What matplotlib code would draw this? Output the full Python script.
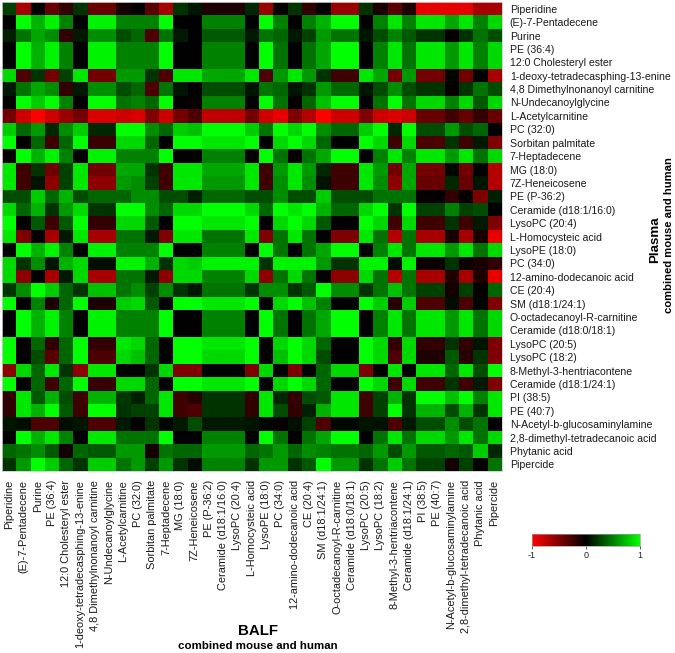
import numpy as np
import matplotlib
matplotlib.use("Agg")
import matplotlib.pyplot as plt
from matplotlib.colors import LinearSegmentedColormap, Normalize
from matplotlib.cm import ScalarMappable

plt.rcParams['font.family'] = ['Liberation Sans', 'DejaVu Sans']
plt.rcParams['axes.unicode_minus'] = False

metabolites = ["Piperidine", "(E)-7-Pentadecene", "Purine", "PE (36:4)", "12:0 Cholesteryl ester",
    "1-deoxy-tetradecasphing-13-enine", "4,8 Dimethylnonanoyl carnitine", "N-Undecanoylglycine",
    "L-Acetylcarnitine", "PC (32:0)", "Sorbitan palmitate", "7-Heptadecene", "MG (18:0)",
    "7Z-Heneicosene", "PE (P-36:2)", "Ceramide (d18:1/16:0)", "LysoPC (20:4)", "L-Homocysteic acid",
    "LysoPE (18:0)", "PC (34:0)", "12-amino-dodecanoic acid", "CE (20:4)", "SM (d18:1/24:1)",
    "O-octadecanoyl-R-carnitine", "Ceramide (d18:0/18:1)", "LysoPC (20:5)", "LysoPC (18:2)",
    "8-Methyl-3-hentriacontene", "Ceramide (d18:1/24:1)", "PI (38:5)", "PE (40:7)",
    "N-Acetyl-b-glucosaminylamine", "2,8-dimethyl-tetradecanoic acid", "Phytanic acid", "Pipercide"]

r00 = [.25,-.65,0,-.4,-.2,.2,-.4,-.4,-.1,0,-.35,-.65,.2,.08,-.12,-.12,-.12,.15, -.6,-.02,.2,-.2,0,-.6,-.6,.2,-.1,-.35,-.12,-.9,-.9,-.9,-.9,-.65,-.65]
r01 = [0,1,.7,.95,.5,0,.95,.95,.5,.5,.5,1,0,0,.5,.5,.5,0, 1,.5,0,.5,.7,1,1,0,.5,.9,.5,.9,.9,.65,.9,.5,.85]
r02 = [.12,.45,.65,.55,-.2,.1,.55,.55,.3,.4,-.3,.45,.1,0,.35,.35,.35,.1, .45,.4,.1,.25,.6,.45,.45,.08,.3,.5,.35,.2,.2,-.02,.2,.45,.3]
r03 = [0,1,.7,.95,.5,0,.95,.95,.5,.5,.5,1,0,0,.5,.5,.5,0, 1,.45,0,.45,.65,1,1,0,.5,.9,.45,.9,.9,.6,.9,.5,.85]
r04 = [0,1,.7,.95,.5,0,.95,.95,.5,.5,.5,1,0,0,.5,.5,.5,0, 1,.45,0,.45,.65,1,1,0,.5,.9,.45,.9,.9,.6,.9,.5,.85]
r05 = [.85,-.3,.2,-.45,.25,.9,-.45,-.45,.6,.6,.2,-.3,.9,.9,.65,.65,.65,.9, -.3,.6,.9,.6,.2,-.25,-.25,.9,.65,-.45,.6,-.45,-.45,.02,-.45,0,-.65]
r06 = [.1,.45,.65,.55,-.2,.1,.55,.55,.3,.4,-.3,.45,.08,0,.3,.3,.3,.08, .45,.4,.08,.2,.6,.4,.4,.08,.3,.55,.3,.2,.2,-.02,.2,.45,.3]
r07 = [0,1,.8,1,.5,0,1,1,.45,.5,.4,1,0,-.03,.5,.5,.5,0, 1,.45,0,.4,.75,1,1,0,.45,1,.45,.85,.85,.5,.85,.35,.85]
r08 = [-.45,-.8,-1,-.8,-.6,-.45,-.85,-.85,-.8,-.85,-.5,-.8,-.45,-.3,-.75,-.75,-.75,-.45, -.8,-.9,-.5,-.7,-1,-.8,-.8,-.5,-.8,-.85,-.8,-.4,-.4,-.25,-.4,-.2,-.4]
r09 = [.8,.4,.6,.15,.55,.8,.15,.15,1,1,.55,.4,.8,.75,1,1,1,.8, .45,1,.85,1,.55,.4,.4,.8,1,.15,1,.3,.3,.6,.3,.4,0]
r10 = [1,0,.4,-.25,.4,1,-.22,-.22,.85,.85,.4,0,1,1,.9,.9,.9,1, 0,.85,1,.85,.4,0,0,1,.85,-.25,.85,-.3,-.3,.2,-.25,.1,-.5]
r11 = [0,1,.7,.95,.5,0,.95,.95,.5,.5,.5,1,0,0,.5,.5,.5,0, 1,.45,0,.45,.65,1,1,0,.5,.9,.5,.9,.9,.6,.9,.45,.85]
r12 = [.9,-.25,.2,-.45,.25,.9,-.45,-.45,.65,.65,.2,-.25,.9,.9,.65,.65,.65,.9, -.25,.6,.9,.6,.15,-.25,-.25,.9,.6,-.45,.65,-.45,-.45,.03,-.45,0,-.7]
r13 = [.9,-.25,.08,-.55,.25,.9,-.55,-.55,.6,.55,.25,-.25,.9,.9,.6,.6,.6,.9, -.25,.55,.9,.55,.08,-.25,-.25,.9,.55,-.55,.65,-.4,-.4,.15,-.4,.08,-.7]
r14 = [.3,.3,.8,.4,.7,.3,.4,.4,.4,.55,.55,.3,.3,.12,.4,.4,.4,.3, .3,.55,.3,.3,.8,.3,.3,.3,.45,.45,.45,-.02,-.02,-.2,-.02,-.5,.12]
r15 = [.85,.4,.7,.2,.6,.85,.2,.2,1,1,.55,.4,.85,.85,1,1,1,.85, .4,1,.9,1,.7,.4,.4,.85,1,.2,1,.25,.25,.5,.25,.3,0]
r16 = [1,0,.35,-.25,.35,1,-.2,-.2,.85,.85,.35,0,1,1,.9,.9,.9,1, 0,.85,1,.85,.35,0,0,1,.85,-.25,.85,-.25,-.25,.2,-.25,.1,-.5]
r17 = [.9,-.5,0,-.65,.1,.9,-.65,-.65,.45,.45,.1,-.5,.9,.9,.45,.45,.45,.9, -.5,.45,.9,.45,0,-.5,-.5,.9,.45,-.7,.45,-.65,-.65,-.1,-.65,-.1,-.9]
r18 = [0,1,.7,.95,.5,0,.95,.95,.5,.5,.5,1,0,0,.5,.5,.5,0, 1,.45,0,.45,.65,1,1,0,.5,.9,.45,.9,.9,.6,.9,.45,.85]
r19 = [.85,.2,.55,.08,.7,.85,.05,.05,.95,.95,.7,.2,.85,.8,.95,.95,.95,.95, .2,.95,.95,.95,.6,.2,.2,.95,.95,.05,.95,-.05,-.05,.2,-.05,-.1,-.2]
r20 = [.85,-.55,0,-.65,.1,.85,-.65,-.65,.45,.45,.1,-.55,.85,.85,.5,.5,.5,.85, -.55,.45,.85,.45,0,-.55,-.55,.85,.45,-.7,.45,-.65,-.65,-.12,-.65,-.12,-.9]
r21 = [.2,.55,1,.8,.4,.2,.75,.75,.45,.55,.25,.55,.2,.08,.45,.45,.45,.2, .55,.55,.2,.35,1,.55,.55,.2,.45,.75,.45,.25,.25,-.08,.25,-.02,.4]
r22 = [1,0,.5,-.12,.4,1,-.12,-.12,.8,.85,.35,0,1,1,.9,.9,.9,1, 0,.85,1,.75,.5,0,0,1,.8,-.15,.8,-.3,-.3,.05,-.3,.02,-.5]
r23 = [0,1,.7,.95,.5,0,.95,.95,.5,.5,.5,1,0,0,.5,.5,.5,0, 1,.45,0,.45,.65,1,1,0,.5,.9,.45,.9,.9,.6,.9,.45,.85]
r24 = [0,1,.7,.95,.5,0,.95,.95,.5,.5,.5,1,0,0,.5,.5,.5,0, 1,.45,0,.45,.65,1,1,0,.5,.9,.45,.9,.9,.6,.9,.45,.85]
r25 = [1,0,.4,-.2,.4,1,-.2,-.2,.9,.85,.4,0,1,1,.9,.9,.9,1, 0,.85,1,.85,.4,0,0,1,.85,-.2,.85,-.2,-.2,.2,-.2,.08,-.5]
r26 = [1,0,.3,-.35,.4,1,-.3,-.3,.85,.75,.4,0,1,1,.85,.85,.85,1, 0,.75,1,.85,.3,0,0,1,.85,-.3,.85,-.12,-.12,.35,-.15,.2,-.5]
r27 = [-.55,.85,.4,.9,.2,-.55,.9,.9,0,0,.2,.85,-.5,-.5,0,0,0,-.5, .85,0,-.5,0,.4,.85,.85,-.5,0,.9,0,.9,.9,.4,.9,.3,1]
r28 = [1,0,.4,-.25,.4,1,-.22,-.22,.85,.85,.4,0,1,1,.9,.9,.9,1, 0,.85,1,.85,.4,0,0,1,.85,-.25,.85,-.25,-.25,.2,-.25,.1,-.5]
r29 = [-.2,.9,.35,.7,.3,-.25,.7,.7,.22,.12,.4,.9,-.25,-.15,.2,.2,.2,-.2, .9,.15,-.2,.3,.35,.9,.9,-.25,.25,.7,.2,1,1,.75,1,.5,.9]
r30 = [-.2,.9,.7,1,.35,-.25,1,1,.2,.25,.25,.9,-.25,-.3,.2,.2,.2,-.2, .9,.3,-.2,.12,.7,.9,.9,-.25,.25,1,.2,.7,.7,.3,.7,.2,.9]
r31 = [.08,.05,-.3,-.3,.05,.08,-.3,-.3,.1,-.03,.2,.02,.1,.3,.1,.1,.1,.08, .03,-.03,.07,.25,-.3,.03,.03,.08,.07,-.3,.1,.3,.3,.55,.3,.45,0]
r32 = [0,1,.7,.9,.5,0,.9,.9,.45,.45,.45,1,0,0,.5,.5,.5,0, 1,.45,0,.45,.65,1,1,0,.45,.9,.45,.85,.85,.6,.9,.45,.85]
r33 = [.4,.45,.55,.35,-.08,.4,.35,.35,.6,.6,-.08,.45,.4,.4,.6,.6,.6,.4, .45,.6,.4,.55,.5,.45,.45,.4,.6,.3,.6,.35,.35,.4,.35,.8,.15]
r34 = [.2,.6,1,.8,.4,.2,.8,.8,.45,.6,.25,.6,.2,.05,.5,.5,.5,.2, .6,.6,.2,.35,1,.6,.6,.2,.45,.8,.45,.25,.25,-.08,.25,-.02,.45]

matrix = np.array([r00,r01,r02,r03,r04,r05,r06,r07,r08,r09,r10,r11,r12,r13,r14,r15,r16,r17,
                   r18,r19,r20,r21,r22,r23,r24,r25,r26,r27,r28,r29,r30,r31,r32,r33,r34], dtype=float)

W, H = 675, 653
def box(x0, y0, x1, y1):
    return [x0/W, 1-y1/H, (x1-x0)/W, (y1-y0)/H]

cmap = LinearSegmentedColormap.from_list("rkg", ["#ff0000", "#000000", "#00ff00"])
norm = Normalize(-1, 1)

fig = plt.figure(figsize=(W/100, H/100), dpi=100)
ax = fig.add_axes(box(2, 2, 501.5, 471))
ax.imshow(matrix, cmap=cmap, norm=norm, aspect='auto', interpolation='nearest')
n = len(metabolites)
ax.set_xticks(range(n))
ax.set_xticklabels(metabolites, rotation=90, ha='center', va='top', fontsize=7.9, color='#1a1a1a')
ax.yaxis.tick_right()
ax.set_yticks(range(n))
ax.set_yticklabels(metabolites, fontsize=7.55, color='#1a1a1a')
ax.tick_params(axis='x', length=0, pad=6.5)
ax.tick_params(axis='y', length=0, pad=6)
for s in ax.spines.values():
    s.set_color('#cccccc')
    s.set_linewidth(0.6)

cax = fig.add_axes(box(532, 534, 640, 546))
cb = fig.colorbar(ScalarMappable(norm=norm, cmap=cmap), cax=cax, orientation='horizontal', ticks=[-1, 0, 1])
cb.ax.tick_params(labelsize=6.5, length=2.5, width=0.7, pad=1, color='#555555', labelcolor='#222222')
cb.outline.set_edgecolor('#999999')
cb.outline.set_linewidth(0.5)

fig.text(258/W, 1-631/H, "BALF", fontsize=10.8, fontweight='bold', ha='center', va='center', color='black')
fig.text(258/W, 1-646/H, "combined mouse and human", fontsize=8.25, fontweight='bold', ha='center', va='center', color='black')
fig.text(655/W, 1-240/H, "Plasma", fontsize=9.6, fontweight='bold', rotation=90, ha='center', va='center', color='black')
fig.text(668.5/W, 1-235/H, "combined mouse and human", fontsize=8.15, fontweight='bold', rotation=90, ha='center', va='center', color='black')

fig.savefig("out.png", dpi=100)
